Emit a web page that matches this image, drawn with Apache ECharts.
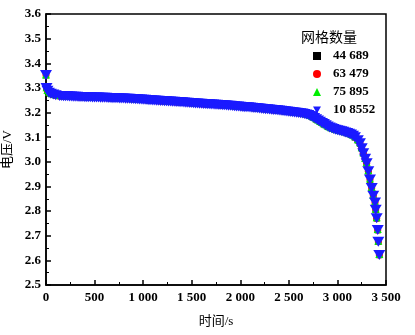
<!DOCTYPE html>
<html>
<head>
<meta charset="utf-8">
<script src="https://cdn.jsdelivr.net/npm/echarts@6/dist/echarts.min.js"></script>
<style>html,body{margin:0;padding:0;background:#fff;}#c{width:415px;height:335px;}</style>
</head>
<body>
<div id="c"></div>
<script>
// fine time grid (s) for the two visible series (75 895 and 10 8552)
const timeFine = [0,5,15,30,50,75,100,
140,160,180,200,220,240,260,280,300,320,340,360,380,400,420,440,460,480,500,520,540,560,580,600,620,640,660,680,700,720,740,760,780,800,
820,840,860,880,900,920,940,960,980,1000,1020,1040,1060,1080,1100,1120,1140,1160,1180,1200,1220,1240,1260,1280,1300,1320,1340,1360,1380,1400,
1420,1440,1460,1480,1500,1520,1540,1560,1580,1600,1620,1640,1660,1680,1700,1720,1740,1760,1780,1800,1820,1840,1860,1880,1900,1920,1940,1960,1980,2000,
2020,2040,2060,2080,2100,2120,2140,2160,2180,2200,2220,2240,2260,2280,2300,2320,2340,2360,2380,2400,2420,2440,2460,2480,2500,2520,2540,2560,2580,2600,
2620,2640,2660,2680,2700,2720,2740,2760,2780,2800,2820,2840,2860,2880,2900,2920,2940,2960,2980,3000,3020,3040,3060,3080,3100,3120,3140,3160,3180,
3210,3232,3250,3266,3285,3301,3318,3335,3353,3369,3387,3394,3404,3415,3421,3431];

// coarse time grid (s) for the two series hidden underneath (44 689 and 63 479)
const timeCoarse = [0,5,15,30,50,75,100,
140,180,220,260,300,340,380,420,460,500,540,580,620,660,700,740,780,820,860,900,940,980,
1020,1060,1100,1140,1180,1220,1260,1300,1340,1380,1420,1460,1500,1540,1580,1620,1660,1700,1740,1780,1820,1860,1900,1940,1980,
2020,2060,2100,2140,2180,2220,2260,2300,2340,2380,2420,2460,2500,2540,2580,2620,2660,2700,2740,2780,2820,2860,2900,2940,2980,
3020,3060,3100,3140,3180,
3210,3232,3250,3266,3285,3301,3318,3335,3353,3369,3387,3394,3404,3415,3421,3431];

const v44689 = [3.351,3.299,3.287,3.279,3.275,3.272,3.269,
3.266,3.2655,3.265,3.264,3.263,3.2625,3.262,3.2615,3.261,3.2605,3.260,3.2595,3.259,3.258,3.2575,3.257,3.256,3.2555,3.2545,3.2535,3.2525,3.2515,
3.2505,3.249,3.248,3.247,3.246,3.245,3.244,3.243,3.242,3.241,3.240,3.2385,3.2375,3.236,3.235,3.234,3.233,3.232,3.231,3.230,3.229,3.228,3.2265,3.225,3.2235,
3.222,3.2205,3.219,3.2175,3.216,3.214,3.2125,3.211,3.2095,3.208,3.206,3.204,3.202,3.200,3.1985,3.1965,3.193,3.189,3.181,3.172,3.162,3.152,3.142,3.135,3.129,
3.125,3.121,3.116,3.110,3.099,
3.087,3.074,3.054,3.034,3.011,2.993,2.961,2.927,2.893,2.861,2.834,2.804,2.770,2.722,2.675,2.621];

const v63479 = [3.352,3.300,3.288,3.280,3.276,3.273,3.270,
3.267,3.2665,3.266,3.265,3.264,3.2635,3.263,3.2625,3.262,3.2615,3.261,3.2605,3.260,3.259,3.2585,3.258,3.257,3.2565,3.2555,3.2545,3.2535,3.2525,
3.2515,3.250,3.249,3.248,3.247,3.246,3.245,3.244,3.243,3.242,3.241,3.2395,3.2385,3.237,3.236,3.235,3.234,3.233,3.232,3.231,3.230,3.229,3.2275,3.226,3.2245,
3.223,3.2215,3.220,3.2185,3.217,3.215,3.2135,3.212,3.2105,3.209,3.207,3.205,3.203,3.201,3.1995,3.1975,3.194,3.190,3.182,3.173,3.163,3.153,3.143,3.136,3.130,
3.126,3.122,3.117,3.111,3.100,
3.088,3.075,3.055,3.035,3.012,2.994,2.962,2.928,2.894,2.862,2.835,2.805,2.771,2.723,2.676,2.622];

const v75895 = [3.354,3.303,3.292,3.284,3.280,3.277,3.274,
3.271,3.271,3.2705,3.270,3.270,3.2695,3.269,3.2685,3.268,3.268,3.2675,3.267,3.267,3.2665,3.2665,3.266,3.266,3.2655,3.2655,3.265,3.265,3.2645,3.2645,3.264,3.264,3.2635,3.263,3.2625,3.2625,3.262,3.262,3.2615,3.261,3.261,
3.2605,3.260,3.2595,3.259,3.2585,3.258,3.2575,3.257,3.2565,3.256,3.2555,3.255,3.254,3.2535,3.253,3.2525,3.252,3.2515,3.251,3.2505,3.250,3.2495,3.249,3.2485,3.248,3.2475,3.247,3.2465,3.246,3.2455,
3.245,3.244,3.2435,3.243,3.2425,3.242,3.241,3.2405,3.240,3.2395,3.239,3.2385,3.238,3.2375,3.237,3.2365,3.236,3.2355,3.235,3.2345,3.234,3.2335,3.233,3.232,3.2315,3.231,3.230,3.229,3.2285,3.228,
3.227,3.226,3.2255,3.225,3.224,3.223,3.2225,3.222,3.221,3.220,3.219,3.218,3.2175,3.217,3.216,3.215,3.2145,3.214,3.213,3.212,3.211,3.210,3.209,3.208,3.207,3.206,3.205,3.204,3.2035,3.2025,
3.2015,3.200,3.198,3.196,3.194,3.190,3.186,3.1815,3.177,3.172,3.167,3.162,3.157,3.152,3.147,3.1435,3.140,3.137,3.134,3.132,3.130,3.128,3.126,3.1235,3.121,3.118,3.115,3.110,3.104,
3.092,3.079,3.059,3.039,3.016,2.998,2.966,2.932,2.898,2.866,2.839,2.809,2.775,2.727,2.680,2.626];

const v108552 = [3.352,3.300,3.288,3.280,3.276,3.273,3.270,
3.267,3.267,3.2665,3.266,3.266,3.2655,3.265,3.2645,3.264,3.264,3.2635,3.263,3.263,3.2625,3.2625,3.262,3.262,3.2615,3.2615,3.261,3.261,3.2605,3.2605,3.260,3.260,3.2595,3.259,3.2585,3.2585,3.258,3.258,3.2575,3.257,3.257,
3.2565,3.256,3.2555,3.255,3.2545,3.254,3.2535,3.253,3.2525,3.252,3.2515,3.251,3.250,3.2495,3.249,3.2485,3.248,3.2475,3.247,3.2465,3.246,3.2455,3.245,3.2445,3.244,3.2435,3.243,3.2425,3.242,3.2415,
3.241,3.240,3.2395,3.239,3.2385,3.238,3.237,3.2365,3.236,3.2355,3.235,3.2345,3.234,3.2335,3.233,3.2325,3.232,3.2315,3.231,3.2305,3.230,3.2295,3.229,3.228,3.2275,3.227,3.226,3.225,3.2245,3.224,
3.223,3.222,3.2215,3.221,3.220,3.219,3.2185,3.218,3.217,3.216,3.215,3.214,3.2135,3.213,3.212,3.211,3.2105,3.210,3.209,3.208,3.207,3.206,3.205,3.204,3.203,3.202,3.201,3.200,3.1995,3.1985,
3.1975,3.196,3.194,3.192,3.190,3.186,3.182,3.1775,3.173,3.168,3.163,3.158,3.153,3.148,3.143,3.1395,3.136,3.133,3.130,3.128,3.126,3.124,3.122,3.1195,3.117,3.114,3.111,3.106,3.100,
3.088,3.075,3.055,3.035,3.012,2.994,2.962,2.928,2.894,2.862,2.835,2.805,2.771,2.723,2.676,2.622];

const seriesNames = ['44 689','63 479','75 895','10 8552'];
const xTickLabels = {0:'0',500:'500',1000:'1 000',1500:'1 500',2000:'2 000',2500:'2 500',3000:'3 000',3500:'3 500'};
const legendTitle = '网格数量';
const xName = '时间/s';
const yName = '电压/V';

const pairs = (ts, v) => ts.map((t, i) => [t, v[i]]);
const downTri = 'path://M0,0 L10,0 L5,9 Z';
const serif = '"Liberation Serif","Times New Roman",serif';
const cjk = '"Liberation Serif","Noto Sans CJK SC",serif';

const chart = echarts.init(document.getElementById('c'), null, {renderer: 'canvas'});
chart.setOption({
  animation: false,
  backgroundColor: '#fff',
  title: {
    text: legendTitle, left: 296, top: 26,
    textStyle: {fontFamily: cjk, fontSize: 14, fontWeight: 'normal', color: '#000'}
  },
  legend: {
    orient: 'vertical', left: 308, top: 44,
    itemWidth: 8, itemHeight: 8, itemGap: 4,
    textStyle: {fontFamily: serif, fontSize: 13, fontWeight: 'bold', color: '#000', lineHeight: 14, padding: [0, 0, 0, 7]},
    data: [
      {name: seriesNames[0], icon: 'rect'},
      {name: seriesNames[1], icon: 'circle'},
      {name: seriesNames[2], icon: 'triangle'},
      {name: seriesNames[3], icon: downTri}
    ]
  },
  grid: {left: 46, right: 29, top: 14, bottom: 50, outerBoundsMode: 'none', containLabel: false,
    show: true, borderColor: '#000', borderWidth: 1.5, backgroundColor: 'transparent'},
  xAxis: {
    type: 'value', min: 0, max: 3500, interval: 500,
    name: xName, nameLocation: 'middle', nameGap: 30,
    nameTextStyle: {fontFamily: cjk, fontSize: 13, color: '#000'},
    axisLine: {show: true, lineStyle: {color: '#000', width: 1.5}},
    axisTick: {show: true, inside: true, length: 5, lineStyle: {color: '#000', width: 1.5}},
    minorTick: {show: true, splitNumber: 2, length: 3, lineStyle: {color: '#000', width: 1}},
    splitLine: {show: false},
    axisLabel: {margin: 6, fontFamily: serif, fontSize: 13, fontWeight: 'bold', color: '#000',
      formatter: v => xTickLabels[v] !== undefined ? xTickLabels[v] : ''}
  },
  yAxis: {
    type: 'value', min: 2.5, max: 3.6, interval: 0.1,
    name: yName, nameLocation: 'middle', nameGap: 28,
    nameTextStyle: {fontFamily: cjk, fontSize: 13, color: '#000'},
    axisLine: {show: true, lineStyle: {color: '#000', width: 1.5}},
    axisTick: {show: true, inside: true, length: 5, lineStyle: {color: '#000', width: 1.5}},
    minorTick: {show: true, splitNumber: 2, length: 3, lineStyle: {color: '#000', width: 1}},
    splitLine: {show: false},
    axisLabel: {margin: 5, fontFamily: serif, fontSize: 13, fontWeight: 'bold', color: '#000',
      formatter: v => v.toFixed(1)}
  },
  series: [
    {name: seriesNames[0], type: 'scatter', symbol: 'rect', symbolSize: 6, itemStyle: {color: '#000000', opacity: 1}, data: pairs(timeCoarse, v44689)},
    {name: seriesNames[1], type: 'scatter', symbol: 'circle', symbolSize: 7, itemStyle: {color: '#ff0000', opacity: 1}, data: pairs(timeCoarse, v63479)},
    {name: seriesNames[2], type: 'scatter', symbol: 'triangle', symbolSize: [8, 8], itemStyle: {color: '#00ee00', opacity: 1}, data: pairs(timeFine, v75895)},
    {name: seriesNames[3], type: 'scatter', symbol: downTri, symbolSize: [12, 10], itemStyle: {color: '#1a1aff', opacity: 1}, data: pairs(timeFine, v108552)}
  ]
});
</script>
</body>
</html>
